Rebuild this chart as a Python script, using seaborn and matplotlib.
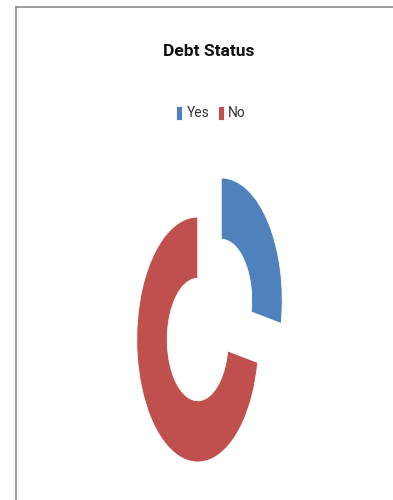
import matplotlib
matplotlib.use("Agg")
import matplotlib.pyplot as plt
from matplotlib.lines import Line2D
import seaborn as sns

# ---- data ----
labels = ["Yes", "No"]
values = [28, 72]
title = "Debt Status"
colors_hex = ["#4F81BD", "#C0504D"]

sns.set_theme(style="white")
plt.rcParams["font.family"] = ["Roboto", "DejaVu Sans"]
palette = sns.color_palette(colors_hex)

W, H = 393, 500
fig = plt.figure(figsize=(W / 100, H / 100), dpi=100)
fig.patch.set_facecolor("white")

ax = fig.add_axes([0, 0, 1, 1])
wedges, _ = ax.pie(
    values,
    colors=palette,
    startangle=90,
    counterclock=False,
    explode=[0.25, 0.25],
    wedgeprops=dict(width=0.5, edgecolor="white", linewidth=0.6),
)
ax.set_aspect("auto")
cx, cy = 209.5, 500 - 320  # center in pixels from left/bottom
rx, ry = 61.0, 122.5
ax.set_xlim(-cx / rx, (W - cx) / rx)
ax.set_ylim(-cy / ry, (H - cy) / ry)
ax.axis("off")

fig.text(209 / W, 1 - 52 / H, title, ha="center", va="center",
         fontsize=12.5, fontweight="bold", color="#111111")

fig.legend(wedges, labels, loc="center", bbox_to_anchor=(211 / W, 1 - 113 / H),
           ncol=2, frameon=False, fontsize=10, handlelength=0.45,
           handleheight=1.2, handletextpad=0.3, columnspacing=0.6,
           labelcolor="#333333")

# outer frame lines (left and top)
fig.add_artist(Line2D([16 / W, 16 / W], [0, 1 - 7 / H], color="#8c8c8c", lw=1.2,
                      transform=fig.transFigure))
fig.add_artist(Line2D([16 / W, 1], [1 - 7 / H, 1 - 7 / H], color="#8c8c8c", lw=1.2,
                      transform=fig.transFigure))

fig.savefig("out.png", dpi=100, facecolor="white")
